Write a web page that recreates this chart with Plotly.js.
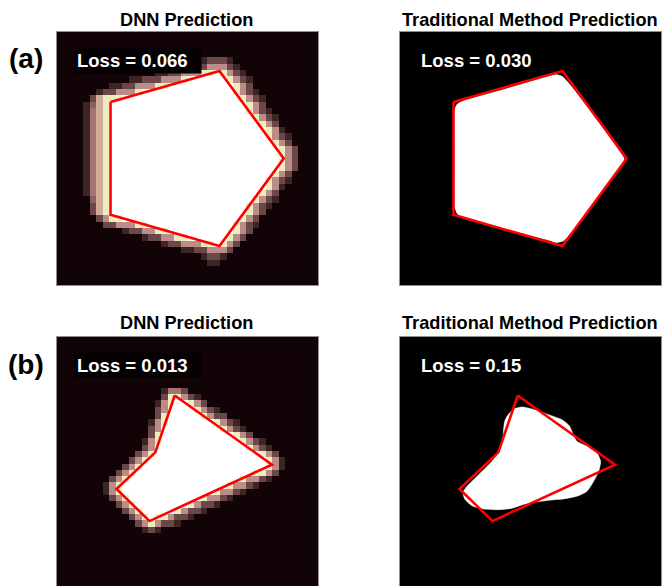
<!DOCTYPE html>
<html>
<head>
<meta charset="utf-8">
<script src="https://cdn.plot.ly/plotly-3.0.1.min.js"></script>
<style>
  html, body { margin: 0; padding: 0; background: #ffffff; }
  #chart { width: 664px; height: 586px; }
</style>
</head>
<body>
<div id="chart"></div>
<script>
// ---- Text ----
const panelTitles = ["DNN Prediction", "Traditional Method Prediction"];
const rowLabels = ["(a)", "(b)"];
const lossDnn = ["0.066", "0.013"];
const lossTrad = ["0.030", "0.15"];

// ---- Ground-truth polygons (image cell units, 40 x 40 grid) ----
const truthA_x = [8.2, 24.9, 34.75, 24.9, 8.2];
const truthA_y = [11.05, 6.15, 20.0, 33.85, 28.9];
const truthB_x = [18.04, 15.07, 9.12, 14.18, 32.95];
const truthB_y = [9.25, 18.24, 24.03, 29.1, 20.18];

// ---- DNN output images: [row, first column, levels 0-9]; "9x14" = 14 cells of level 9 ----
const dnnRowsA = [
  [4, 22, "12221"],
  [5, 18, "1122255521"],
  [6, 15, "11225558898521"],
  [7, 11, "11222555 8 9x6 8521"],
  [8, 8, "112255588 9x10 852"],
  [9, 6, "1225558 9x14 8521"],
  [10, 5, "26888 9x18 8521"],
  [11, 4, "1368 9x21 852"],
  [12, 4, "1468 9x21 8521"],
  [13, 4, "1468 9x22 8521"],
  [14, 4, "1468 9x23 852"],
  [15, 4, "1468 9x24 851"],
  [16, 4, "1468 9x24 8521"],
  [17, 4, "1468 9x25 852"],
  [18, 4, "1468 9x26 852"],
  [19, 4, "1468 9x26 852"],
  [20, 4, "1468 9x26 852"],
  [21, 4, "1468 9x26 852"],
  [22, 4, "1468 9x25 852"],
  [23, 4, "1468 9x24 8521"],
  [24, 4, "1468 9x24 851"],
  [25, 4, "1468 9x23 852"],
  [26, 5, "368 9x22 8521"],
  [27, 5, "268 9x21 8521"],
  [28, 5, "268 9x21 852"],
  [29, 6, "2588 9x18 852"],
  [30, 7, "2255588 9x13 8521"],
  [31, 10, "1225588 9x10 852"],
  [32, 13, "1225588 9x6 852"],
  [33, 16, "122555889852"],
  [34, 19, "11225552"],
  [35, 22, "1221"],
  [36, 23, "11"]
];

const dnnRowsB = [
  [8, 16, "1442"],
  [9, 16, "288521"],
  [10, 15, "15899852"],
  [11, 15, "25 9x4 8521"],
  [12, 15, "28 9x5 8522"],
  [13, 14, "158 9x7 8521"],
  [14, 14, "25 9x9 8521"],
  [15, 14, "28 9x11 852"],
  [16, 13, "158 9x12 8521"],
  [17, 13, "25 9x14 8521"],
  [18, 12, "258 9x16 852"],
  [19, 11, "258 9x18 851"],
  [20, 10, "258 9x19 851"],
  [21, 9, "258 9x18 8852"],
  [22, 8, "258 9x17 85521"],
  [23, 7, "158 9x16 85521"],
  [24, 7, "158 9x14 85521"],
  [25, 8, "258 9x11 85521"],
  [26, 9, "258 9x8 85221"],
  [27, 10, "258 9x5 85221"],
  [28, 11, "2589885221"],
  [29, 12, "2585221"],
  [30, 13, "121"]
];

// ---- Traditional method outputs: filled region outlines (cell units) ----
const tradA_x = [8.35, 8.78, 9.76, 16.14, 22.78, 23.91, 24.85, 25.95, 30.25, 34.05, 34.38, 33.90, 30.05, 26.15, 25.09, 23.91, 23.04, 16.14, 11.54, 9.76, 8.80, 8.38, 8.35];
const tradA_y = [12.33, 11.38, 10.86, 9.01, 6.96, 6.70, 7.00, 8.20, 14.00, 19.45, 20.13, 21.03, 26.56, 31.83, 33.00, 33.31, 33.00, 31.20, 29.99, 29.46, 28.77, 27.62, 20.00];

const tradB_x = [16.40, 17.42, 18.70, 20.23, 22.78, 24.83, 25.95, 26.46, 27.13, 28.91, 30.19, 30.75, 30.45, 29.68, 28.66, 27.38, 25.34, 22.78, 20.49, 18.70, 17.16, 15.12, 12.82, 11.03, 9.91, 9.66, 10.27, 12.06, 14.10, 15.38, 15.74, 15.89, 16.04];
const tradB_y = [12.54, 11.38, 11.07, 11.38, 12.28, 13.07, 14.02, 15.18, 16.50, 17.39, 18.34, 19.66, 21.24, 22.82, 24.40, 25.09, 25.56, 25.82, 26.14, 26.56, 27.09, 27.30, 27.19, 26.67, 25.61, 24.56, 23.61, 21.77, 19.66, 17.81, 16.23, 14.39, 13.33];

// ---- Build image matrices from the row records ----
const GRID = 40;
function expand(s) {
  return s.split(" ").map(t => {
    const m = t.match(/^(\d)x(\d+)$/);
    return m ? m[1].repeat(Number(m[2])) : t;
  }).join("");
}
function buildImage(rows) {
  const z = [];
  for (let r = 0; r < GRID; r++) z.push(new Array(GRID).fill(0));
  rows.forEach(([r, c0, s]) => {
    const levels = expand(s);
    for (let i = 0; i < levels.length; i++) z[r][c0 + i] = Number(levels[i]);
  });
  return z;
}
const closed = arr => arr.concat([arr[0]]);

// pink-style colour map over levels 0..9
const pinkScale = [
  [0 / 9, "#120306"], [1 / 9, "#3d2425"], [2 / 9, "#6b4747"], [3 / 9, "#8a6060"],
  [4 / 9, "#a47474"], [5 / 9, "#bb8d88"], [6 / 9, "#d0ac98"], [7 / 9, "#e0d0a8"],
  [8 / 9, "#ecebc2"], [9 / 9, "#ffffff"]
];

function heat(rows, xa, ya) {
  return {
    type: "heatmap", z: buildImage(rows), x0: 0.5, dx: 1, y0: 0.5, dy: 1,
    zmin: 0, zmax: 9, colorscale: pinkScale, showscale: false, zsmooth: false,
    hoverinfo: "skip", xaxis: xa, yaxis: ya
  };
}
function blob(xs, ys, xa, ya) {
  return {
    type: "scatter", mode: "lines", x: closed(xs), y: closed(ys), fill: "toself",
    fillcolor: "#ffffff", line: { color: "#ffffff", width: 0.5, shape: "spline", smoothing: 0.6 },
    hoverinfo: "skip", xaxis: xa, yaxis: ya
  };
}
function outline(xs, ys, xa, ya) {
  return {
    type: "scatter", mode: "lines", x: closed(xs), y: closed(ys),
    line: { color: "#ff0000", width: 2.6 }, hoverinfo: "skip", xaxis: xa, yaxis: ya
  };
}

const traces = [
  heat(dnnRowsA, "x", "y"),
  outline(truthA_x, truthA_y, "x", "y"),
  blob(tradA_x, tradA_y, "x2", "y2"),
  outline(truthA_x, truthA_y, "x2", "y2"),
  heat(dnnRowsB, "x3", "y3"),
  outline(truthB_x, truthB_y, "x3", "y3"),
  blob(tradB_x, tradB_y, "x4", "y4"),
  outline(truthB_x, truthB_y, "x4", "y4")
];

// ---- Panel placement (pixels) ----
const W = 664, H = 586;
const colLeft = [57, 400], colW = 261;
const rowTop = [32, 337], cell = 253 / GRID;
const px = v => v / W;
const py = v => 1 - v / H;

function xAxis(col, side) {
  return {
    domain: [px(colLeft[col]), px(colLeft[col] + colW)], range: [0, GRID],
    showgrid: false, zeroline: false, showticklabels: false, ticks: "",
    showline: true, mirror: side === "both", side: side === "both" ? "bottom" : "top",
    linecolor: "#8f8f8f", linewidth: 1, fixedrange: true
  };
}
function yAxis(row, anchor) {
  const top = rowTop[row];
  const bottom = Math.min(top + GRID * cell, H);
  const visible = (bottom - top) / cell;
  return {
    domain: [py(bottom), py(top)], range: [visible, 0], anchor: anchor,
    showgrid: false, zeroline: false, showticklabels: false, ticks: "",
    showline: true, mirror: true, linecolor: "#8f8f8f", linewidth: 1, fixedrange: true
  };
}

const FONT = "Liberation Sans, Arial, Helvetica, sans-serif";
const annotations = [];
for (let row = 0; row < 2; row++) {
  for (let col = 0; col < 2; col++) {
    annotations.push({
      xref: "paper", yref: "paper", x: px(colLeft[col] + colW / 2 - 1), y: py(rowTop[row]),
      xanchor: "center", yanchor: "bottom", yshift: row === 0 ? 0 : 2, showarrow: false,
      text: "<b>" + panelTitles[col] + "</b>", font: { family: FONT, size: 18.2, color: "#000000" }
    });
  }
  annotations.push({
    xref: "paper", yref: "paper", x: px(25.5), y: py(row === 0 ? 58.5 : 364.5),
    xanchor: "center", yanchor: "middle", showarrow: false,
    text: "<b>" + rowLabels[row] + "</b>", font: { family: FONT, size: 28, color: "#000000" }
  });
}
const axisIds = [["x", "y"], ["x2", "y2"], ["x3", "y3"], ["x4", "y4"]];
const lossText = [lossDnn[0], lossTrad[0], lossDnn[1], lossTrad[1]];
lossText.forEach((v, i) => {
  const isDnn = i % 2 === 0;
  const row = i < 2 ? 0 : 1;
  annotations.push({
    xref: axisIds[i][0], yref: axisIds[i][1],
    x: isDnn ? 2.6 : 2.8, y: row === 0 ? 4.45 : 4.55,
    xanchor: "left", yanchor: "middle", showarrow: false, align: "left",
    text: "<b>Loss = " + v + "</b>", font: { family: FONT, size: 18.5, color: "#ffffff" },
    bgcolor: isDnn ? "#050001" : "rgba(0,0,0,0)", borderpad: 2,
    width: isDnn ? 122 : null
  });
});

const layout = {
  width: W, height: H, margin: { l: 0, r: 0, t: 0, b: 0, pad: 0 },
  paper_bgcolor: "#ffffff", plot_bgcolor: "#000000", showlegend: false,
  font: { family: FONT },
  xaxis: Object.assign(xAxis(0, "both"), { anchor: "y" }),
  yaxis: yAxis(0, "x"),
  xaxis2: Object.assign(xAxis(1, "both"), { anchor: "y2" }),
  yaxis2: yAxis(0, "x2"),
  xaxis3: Object.assign(xAxis(0, "top"), { anchor: "y3" }),
  yaxis3: yAxis(1, "x3"),
  xaxis4: Object.assign(xAxis(1, "top"), { anchor: "y4" }),
  yaxis4: yAxis(1, "x4"),
  annotations: annotations
};

Plotly.newPlot("chart", traces, layout, { displayModeBar: false, staticPlot: true });
</script>
</body>
</html>
